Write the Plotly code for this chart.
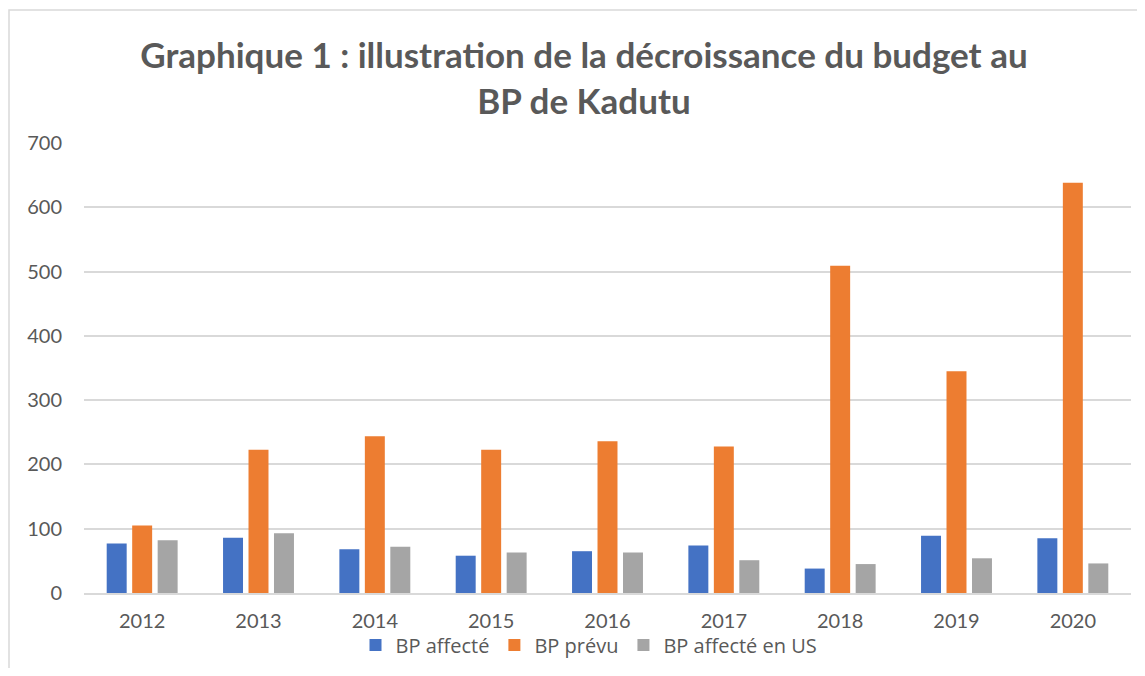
import plotly.graph_objects as go

years = ["2012", "2013", "2014", "2015", "2016", "2017", "2018", "2019", "2020"]
bp_affecte = [77, 86, 68, 58, 65, 74, 38, 89, 85]
bp_prevu = [105, 223, 244, 223, 236, 228, 509, 345, 638]
bp_affecte_us = [82, 93, 72, 63, 63, 51, 45, 54, 46]

series_names = ["BP affecté", "BP prévu", "BP affecté en US"]
colors = ["#4472C4", "#ED7D31", "#A5A5A5"]

OFF = 8  # page body margin
W, H = 1145 - 2 * OFF, 676 - 2 * OFF
L, T = 84 - OFF, 143 - OFF
R = W - (1131 - OFF)
B = H - (593 - OFF)
pw, ph = W - L - R, H - T - B

def sx(px):  # screen px -> paper x
    return (px - OFF - L) / pw

def sy(py):  # screen px -> paper y
    return (H - B - (py - OFF)) / ph

fig = go.Figure()
for name, vals, col in zip(series_names, [bp_affecte, bp_prevu, bp_affecte_us], colors):
    fig.add_trace(go.Bar(x=years, y=vals, name=name, marker=dict(color=col, line=dict(width=0))))

fig.update_layout(
    width=W, height=H,
    margin=dict(l=L, r=R, t=T, b=B, autoexpand=False),
    paper_bgcolor="white", plot_bgcolor="white",
    barmode="group", bargap=0.343, bargroupgap=0.216,
    font=dict(family="Lato, Open Sans, sans-serif", color="#595959", size=20),
    title=dict(
        text="Graphique 1 : illustration de la décroissance du budget au<br>BP de Kadutu",
        x=sx(584), xref="paper", xanchor="center",
        y=1 - 60 / H, yanchor="middle",
        font=dict(family="Lato, Open Sans, sans-serif", size=35, color="#595959", weight="bold"),
    ),
    legend=dict(orientation="h", x=sx(589), xanchor="center", y=sy(645), yanchor="middle",
                font=dict(family="Open Sans, sans-serif", size=20, color="#595959"),
                bgcolor="rgba(0,0,0,0)", itemwidth=30, traceorder="normal"),
    showlegend=True,
    shapes=[dict(type="rect", xref="paper", yref="paper",
                 x0=sx(9), x1=sx(1160), y0=sy(700), y1=sy(10),
                 line=dict(color="#D9D9D9", width=1.5), fillcolor="rgba(0,0,0,0)", layer="below")],
)
fig.update_xaxes(showgrid=False, showline=True, linecolor="#D9D9D9", linewidth=1.5,
                 ticks="", tickfont=dict(size=20, color="#595959"), ticklabelstandoff=9)
fig.update_yaxes(range=[0, 700], dtick=100, showgrid=True, gridcolor="#D9D9D9", gridwidth=1.5,
                 zeroline=False, showline=False, ticks="",
                 tickfont=dict(size=20, color="#595959"), ticklabelstandoff=21)

fig.write_html("out.html")
